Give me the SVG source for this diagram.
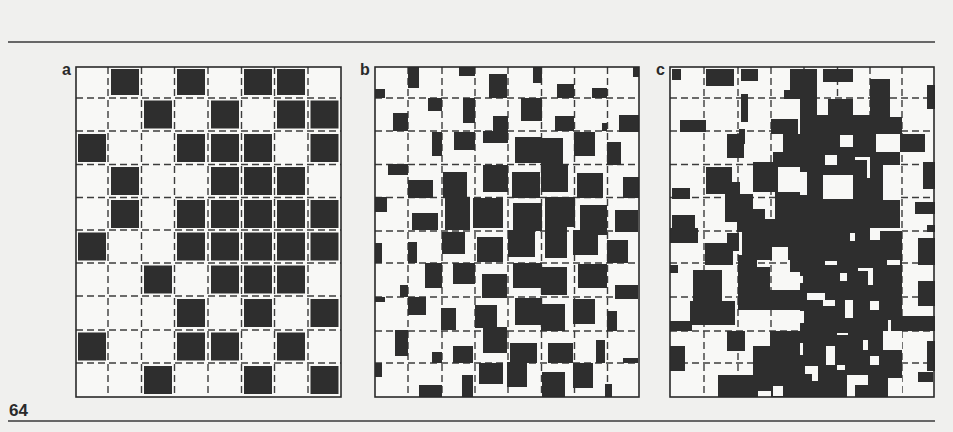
<svg xmlns="http://www.w3.org/2000/svg" width="953" height="432" viewBox="0 0 953 432">
<style>
.page{fill:#f0f0ee}
.panel{fill:#f8f8f6}
.frame{fill:none;stroke:#2a2a2a;stroke-width:1.6}
.dash{fill:none;stroke:#3c3c3c;stroke-width:1.4;stroke-dasharray:7 4}
.rule{stroke:#3a3a3a;stroke-width:1.6}
.k{fill:#2e2e2e}
.w{fill:#f8f8f6}
.lbl{font-family:"Liberation Sans",Arial,sans-serif;font-weight:bold;fill:#2a2a2a}
</style>
<rect class="page" x="0" y="0" width="953" height="432"/>
<line class="rule" x1="8" y1="42" x2="935" y2="42"/>
<line class="rule" x1="8" y1="421" x2="935" y2="421"/>
<text class="lbl" x="9" y="416" font-size="17">64</text>

<g id="panel-a">
<rect class="panel" x="76" y="67" width="265" height="330"/>
<path class="dash" d="M108 67V397M141.5 67V397M174.5 67V397M208 67V397M241.5 67V397M274.5 67V397M308 67V397M76 98H341M76 131H341M76 164.5H341M76 197.5H341M76 230H341M76 263H341M76 296H341M76 330H341M76 363H341"/>
<g class="k">
<rect x="111" y="69" width="28" height="26"/><rect x="177" y="69" width="28" height="26"/><rect x="244" y="69" width="28" height="26"/><rect x="277" y="69" width="28" height="26"/>
<rect x="144" y="100.5" width="28" height="28"/><rect x="211" y="100.5" width="28" height="28"/><rect x="277" y="100.5" width="28" height="28"/><rect x="310.5" y="100.5" width="28" height="28"/>
<rect x="78" y="134" width="28" height="28"/><rect x="177" y="134" width="28" height="28"/><rect x="211" y="134" width="28" height="28"/><rect x="244" y="134" width="28" height="28"/><rect x="310.5" y="134" width="28" height="28"/>
<rect x="111" y="167" width="28" height="28"/><rect x="211" y="167" width="28" height="28"/><rect x="244" y="167" width="28" height="28"/><rect x="277" y="167" width="28" height="28"/>
<rect x="111" y="200" width="28" height="28"/><rect x="177" y="200" width="28" height="28"/><rect x="211" y="200" width="28" height="28"/><rect x="244" y="200" width="28" height="28"/><rect x="277" y="200" width="28" height="28"/><rect x="310.5" y="200" width="28" height="28"/>
<rect x="78" y="232.5" width="28" height="28"/><rect x="177" y="232.5" width="28" height="28"/><rect x="211" y="232.5" width="28" height="28"/><rect x="244" y="232.5" width="28" height="28"/><rect x="277" y="232.5" width="28" height="28"/><rect x="310.5" y="232.5" width="28" height="28"/>
<rect x="144" y="265.5" width="28" height="28"/><rect x="211" y="265.5" width="28" height="28"/><rect x="244" y="265.5" width="28" height="28"/><rect x="277" y="265.5" width="28" height="28"/>
<rect x="177" y="299" width="28" height="28"/><rect x="244" y="299" width="28" height="28"/><rect x="310.5" y="299" width="28" height="28"/>
<rect x="78" y="332.5" width="28" height="28"/><rect x="177" y="332.5" width="28" height="28"/><rect x="211" y="332.5" width="28" height="28"/><rect x="277" y="332.5" width="28" height="28"/>
<rect x="144" y="366" width="28" height="28"/><rect x="244" y="366" width="28" height="28"/><rect x="310.5" y="366" width="28" height="28"/>
</g>
<rect class="frame" x="76" y="67" width="265" height="330"/>
<text class="lbl" x="62" y="75" font-size="16">a</text>
</g>

<g id="panel-b">
<rect class="panel" x="375" y="67" width="264" height="330"/>
<path class="dash" d="M408 67V397M442 67V397M475 67V397M508 67V397M541.5 67V397M574.5 67V397M607.5 67V397M375 98H639M375 131H639M375 164.5H639M375 197.5H639M375 231H639M375 263H639M375 297H639M375 331H639M375 363H639"/>
<g class="k">
<rect x="408" y="67" width="11" height="21"/><rect x="459" y="67" width="16" height="9"/><rect x="489" y="74" width="18" height="24"/><rect x="533" y="67" width="9" height="16"/><rect x="633" y="67" width="6" height="10"/>
<rect x="375" y="89" width="10" height="9"/><rect x="557" y="84" width="17" height="14"/><rect x="592" y="88" width="15" height="10"/>
<rect x="428" y="98" width="14" height="13"/><rect x="463" y="98" width="12" height="25"/><rect x="521" y="98" width="21" height="23"/>
<rect x="393" y="113" width="15" height="18"/><rect x="493" y="116" width="15" height="27"/><rect x="483" y="131" width="10" height="12"/>
<rect x="555" y="116" width="19" height="15"/><rect x="602" y="123" width="5" height="8"/><rect x="619" y="115" width="20" height="17"/>
<rect x="432" y="132" width="10" height="24"/><rect x="454" y="132" width="21" height="18"/>
<rect x="515" y="137" width="27" height="26"/><rect x="541" y="138" width="22" height="27"/><rect x="541" y="164" width="27" height="28"/>
<rect x="574" y="132" width="21" height="24"/><rect x="607" y="142" width="14" height="23"/>
<rect x="388" y="164" width="20" height="11"/><rect x="408" y="180" width="25" height="18"/>
<rect x="443" y="172" width="24" height="26"/><rect x="445" y="197" width="25" height="33"/>
<rect x="483" y="165" width="25" height="27"/><rect x="512" y="172" width="28" height="26"/><rect x="577" y="173" width="26" height="25"/><rect x="623" y="177" width="16" height="21"/>
<rect x="375" y="197" width="12" height="15"/><rect x="412" y="213" width="26" height="17"/><rect x="473" y="198" width="30" height="30"/>
<rect x="513" y="203" width="29" height="28"/><rect x="508" y="230" width="27" height="27"/>
<rect x="545" y="197" width="30" height="30"/><rect x="545" y="226" width="22" height="32"/>
<rect x="580" y="205" width="27" height="30"/><rect x="573" y="230" width="25" height="25"/><rect x="615" y="210" width="23" height="22"/>
<rect x="375" y="243" width="7" height="20"/><rect x="408" y="242" width="9" height="21"/><rect x="442" y="232" width="23" height="22"/><rect x="477" y="237" width="26" height="25"/><rect x="607" y="240" width="21" height="23"/>
<rect x="425" y="263" width="17" height="25"/><rect x="453" y="263" width="22" height="21"/><rect x="482" y="274" width="25" height="24"/>
<rect x="513" y="263" width="29" height="25"/><rect x="541" y="267" width="26" height="28"/><rect x="578" y="264" width="29" height="24"/>
<rect x="400" y="285" width="8" height="12"/><rect x="615" y="285" width="23" height="14"/><rect x="375" y="297" width="10" height="5"/>
<rect x="408" y="297" width="18" height="18"/><rect x="441" y="308" width="15" height="22"/>
<rect x="475" y="305" width="22" height="23"/><rect x="483" y="327" width="24" height="26"/>
<rect x="515" y="298" width="27" height="27"/><rect x="541" y="304" width="24" height="27"/><rect x="573" y="299" width="22" height="25"/><rect x="607" y="311" width="10" height="20"/>
<rect x="395" y="330" width="13" height="26"/><rect x="453" y="346" width="20" height="17"/><rect x="432" y="352" width="10" height="11"/>
<rect x="510" y="343" width="27" height="20"/><rect x="507" y="362" width="20" height="25"/><rect x="548" y="343" width="25" height="20"/>
<rect x="596" y="340" width="9" height="23"/><rect x="623" y="358" width="15" height="5"/>
<rect x="375" y="363" width="7" height="14"/><rect x="419" y="385" width="23" height="12"/><rect x="462" y="375" width="11" height="22"/>
<rect x="479" y="363" width="24" height="21"/><rect x="542" y="372" width="23" height="25"/><rect x="573" y="363" width="20" height="25"/><rect x="605" y="384" width="7" height="13"/>
</g>
<rect class="frame" x="375" y="67" width="264" height="330"/>
<text class="lbl" x="360" y="75" font-size="16">b</text>
</g>

<g id="panel-c">
<rect class="panel" x="670" y="67" width="264" height="330"/>
<path class="dash" d="M704 67V397M738 67V397M771 67V397M804 67V397M837.5 67V397M870 67V397M902 67V397M670 98H934M670 131H934M670 164.5H934M670 197.5H934M670 231H934M670 263H934M670 297H934M670 331H934M670 363H934"/>
<g class="k">
<rect x="672" y="69" width="9" height="11"/><rect x="706" y="69" width="28" height="17"/><rect x="741" y="69" width="17" height="12"/>
<rect x="790" y="69" width="15" height="30"/><rect x="800" y="69" width="17" height="46"/><rect x="784" y="90" width="6" height="9"/>
<rect x="823" y="69" width="30" height="13"/><rect x="741" y="94" width="7" height="28"/><rect x="828" y="99" width="25" height="16"/>
<rect x="870" y="79" width="20" height="55"/><rect x="877" y="117" width="25" height="17"/><rect x="927" y="85" width="8" height="24"/>
<rect x="680" y="120" width="26" height="12"/><rect x="727" y="134" width="17" height="24"/><rect x="739" y="129" width="6" height="15"/>
<rect x="771" y="119" width="27" height="15"/><rect x="783" y="134" width="22" height="28"/><rect x="900" y="134" width="25" height="18"/><rect x="773" y="152" width="32" height="15"/>
<rect x="800" y="115" width="76" height="117"/><rect x="876" y="152" width="24" height="80"/>
<rect x="923" y="162" width="12" height="27"/><rect x="915" y="202" width="20" height="12"/><rect x="927" y="225" width="8" height="7"/>
<rect x="706" y="167" width="26" height="27"/><rect x="732" y="182" width="8" height="12"/><rect x="753" y="162" width="25" height="30"/>
<rect x="672" y="188" width="18" height="11"/><rect x="725" y="194" width="28" height="28"/><rect x="753" y="209" width="12" height="23"/>
<rect x="765" y="219" width="10" height="13"/><rect x="737" y="222" width="28" height="10"/><rect x="775" y="192" width="30" height="40"/><rect x="672" y="215" width="23" height="17"/>
<rect x="670" y="228" width="28" height="15"/><rect x="705" y="243" width="28" height="22"/><rect x="727" y="233" width="12" height="18"/>
<rect x="742" y="228" width="63" height="32"/><rect x="738" y="255" width="19" height="12"/><rect x="790" y="260" width="15" height="12"/>
<rect x="670" y="265" width="8" height="8"/><rect x="693" y="270" width="29" height="55"/><rect x="690" y="301" width="45" height="24"/>
<rect x="738" y="267" width="32" height="43"/><rect x="770" y="290" width="35" height="20"/>
<rect x="670" y="321" width="22" height="10"/><rect x="727" y="331" width="18" height="20"/><rect x="770" y="331" width="35" height="15"/>
<rect x="753" y="346" width="52" height="51"/><rect x="670" y="346" width="15" height="25"/><rect x="718" y="375" width="35" height="22"/>
<rect x="800" y="228" width="102" height="169"/>
<rect x="918" y="238" width="17" height="27"/><rect x="918" y="281" width="17" height="25"/><rect x="900" y="316" width="35" height="15"/><rect x="927" y="341" width="8" height="30"/><rect x="918" y="372" width="15" height="10"/>
</g>
<g class="w">
<rect x="840" y="135" width="13" height="12"/><rect x="825" y="155" width="12" height="10"/><rect x="855" y="157" width="15" height="3"/><rect x="867" y="160" width="3" height="18"/>
<rect x="823" y="175" width="30" height="24"/><rect x="800" y="172" width="7" height="23"/><rect x="883" y="165" width="17" height="35"/>
<rect x="772" y="247" width="16" height="13"/>
<rect x="850" y="233" width="5" height="8"/><rect x="870" y="228" width="10" height="12"/><rect x="878" y="228" width="24" height="3"/>
<rect x="825" y="261" width="12" height="4"/><rect x="840" y="273" width="7" height="8"/><rect x="858" y="268" width="15" height="3"/><rect x="868" y="271" width="5" height="14"/>
<rect x="887" y="260" width="13" height="5"/><rect x="800" y="276" width="3" height="7"/><rect x="807" y="293" width="18" height="7"/><rect x="823" y="300" width="12" height="6"/>
<rect x="845" y="300" width="8" height="18"/><rect x="870" y="301" width="9" height="9"/><rect x="800" y="311" width="4" height="12"/><rect x="888" y="320" width="3" height="11"/>
<rect x="837" y="333" width="11" height="2"/><rect x="883" y="331" width="19" height="19"/><rect x="863" y="340" width="5" height="10"/><rect x="800" y="343" width="3" height="12"/>
<rect x="826" y="346" width="9" height="19"/><rect x="870" y="356" width="9" height="9"/><rect x="837" y="365" width="8" height="5"/>
<rect x="805" y="366" width="13" height="8"/><rect x="812" y="374" width="6" height="7"/><rect x="847" y="375" width="21" height="10"/><rect x="847" y="385" width="8" height="12"/>
<rect x="888" y="378" width="14" height="19"/><rect x="773" y="386" width="10" height="10"/><rect x="758" y="391" width="13" height="6"/>
</g>
<rect class="frame" x="670" y="67" width="264" height="330"/>
<text class="lbl" x="656" y="75" font-size="16">c</text>
</g>
</svg>
